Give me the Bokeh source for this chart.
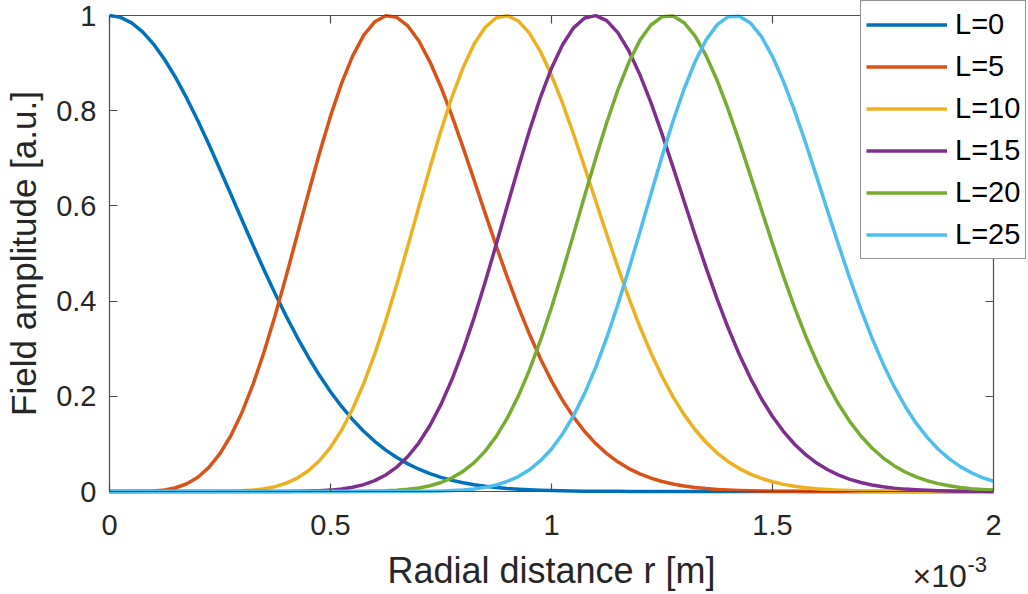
import math
from bokeh.plotting import figure
from bokeh.models import Range1d, Legend, LegendItem, LinearAxis, FixedTicker, Label
from bokeh.embed import file_html
from bokeh.resources import INLINE

# ---------------- data ----------------
# radial distance in units of 1e-3 m
r_mm = [0.0, 0.025, 0.05, 0.075, 0.1, 0.125, 0.15, 0.175, 0.2, 0.225,
        0.25, 0.275, 0.3, 0.325, 0.35, 0.375, 0.4, 0.425, 0.45, 0.475,
        0.5, 0.525, 0.55, 0.575, 0.6, 0.625, 0.65, 0.675, 0.7, 0.725,
        0.75, 0.775, 0.8, 0.825, 0.85, 0.875, 0.9, 0.925, 0.95, 0.975,
        1.0, 1.025, 1.05, 1.075, 1.1, 1.125, 1.15, 1.175, 1.2, 1.225,
        1.25, 1.275, 1.3, 1.325, 1.35, 1.375, 1.4, 1.425, 1.45, 1.475,
        1.5, 1.525, 1.55, 1.575, 1.6, 1.625, 1.65, 1.675, 1.7, 1.725,
        1.75, 1.775, 1.8, 1.825, 1.85, 1.875, 1.9, 1.925, 1.95, 1.975,
        2.0]

amp_L0 = [1.0, 0.9961, 0.9845, 0.9655, 0.9394, 0.9070, 0.8688, 0.8258, 0.7788, 0.7288,
          0.6766, 0.6233, 0.5698, 0.5168, 0.4650, 0.4152, 0.3679, 0.3234, 0.2821, 0.2441,
          0.2096, 0.1786, 0.1510, 0.1266, 0.1054, 0.0870, 0.0713, 0.0580, 0.0468, 0.0374,
          0.0297, 0.0234, 0.0183, 0.0142, 0.0109, 0.0084, 0.0063, 0.0048, 0.0036, 0.0026,
          0.0019, 0.0014, 0.0010, 0.0007, 0.0005, 0.0004, 0.0003, 0.0002, 0.0001, 0.0001,
          0.0001, 0.0, 0.0, 0.0, 0.0, 0.0, 0.0, 0.0, 0.0, 0.0,
          0.0, 0.0, 0.0, 0.0, 0.0, 0.0, 0.0, 0.0, 0.0, 0.0,
          0.0, 0.0, 0.0, 0.0, 0.0, 0.0, 0.0, 0.0, 0.0, 0.0,
          0.0]

amp_L5 = [0.0, 0.0, 0.0, 0.0003, 0.0011, 0.0033, 0.0079, 0.0163, 0.0300, 0.0506,
          0.0796, 0.1180, 0.1667, 0.2256, 0.2941, 0.3707, 0.4535, 0.5398, 0.6266, 0.7106,
          0.7886, 0.8575, 0.9148, 0.9583, 0.9867, 0.9993, 0.9962, 0.9781, 0.9464, 0.9027,
          0.8493, 0.7885, 0.7225, 0.6538, 0.5842, 0.5158, 0.4500, 0.3880, 0.3308, 0.2788,
          0.2324, 0.1916, 0.1563, 0.1261, 0.1007, 0.0796, 0.0623, 0.0482, 0.0370, 0.0281,
          0.0211, 0.0157, 0.0116, 0.0084, 0.0061, 0.0044, 0.0031, 0.0022, 0.0015, 0.0010,
          0.0007, 0.0005, 0.0003, 0.0002, 0.0001, 0.0001, 0.0001, 0.0, 0.0, 0.0,
          0.0, 0.0, 0.0, 0.0, 0.0, 0.0, 0.0, 0.0, 0.0, 0.0,
          0.0]

amp_L10 = [0.0, 0.0, 0.0, 0.0, 0.0, 0.0, 0.0, 0.0, 0.0, 0.0001,
           0.0003, 0.0007, 0.0015, 0.0031, 0.0058, 0.0103, 0.0175, 0.0282, 0.0435, 0.0646,
           0.0927, 0.1287, 0.1732, 0.2266, 0.2887, 0.3585, 0.4349, 0.5156, 0.5984, 0.6803,
           0.7583, 0.8293, 0.8907, 0.9400, 0.9752, 0.9953, 0.9996, 0.9885, 0.9629, 0.9242,
           0.8743, 0.8157, 0.7505, 0.6813, 0.6104, 0.5398, 0.4713, 0.4064, 0.3461, 0.2912,
           0.2421, 0.1989, 0.1615, 0.1297, 0.1029, 0.0808, 0.0627, 0.0481, 0.0365, 0.0275,
           0.0204, 0.0150, 0.0109, 0.0079, 0.0056, 0.0040, 0.0028, 0.0019, 0.0013, 0.0009,
           0.0006, 0.0004, 0.0003, 0.0002, 0.0001, 0.0001, 0.0, 0.0, 0.0, 0.0,
           0.0]

amp_L15 = [0.0, 0.0, 0.0, 0.0, 0.0, 0.0, 0.0, 0.0, 0.0, 0.0,
           0.0, 0.0, 0.0, 0.0, 0.0, 0.0001, 0.0002, 0.0004, 0.0008, 0.0016,
           0.0029, 0.0052, 0.0089, 0.0145, 0.0228, 0.0348, 0.0513, 0.0735, 0.1023, 0.1386,
           0.1830, 0.2358, 0.2968, 0.3653, 0.4401, 0.5192, 0.6003, 0.6808, 0.7577, 0.8281,
           0.8892, 0.9385, 0.9741, 0.9947, 0.9997, 0.9892, 0.9640, 0.9256, 0.8758, 0.8169,
           0.7513, 0.6815, 0.6099, 0.5385, 0.4693, 0.4037, 0.3429, 0.2876, 0.2382, 0.1949,
           0.1576, 0.1259, 0.0993, 0.0775, 0.0598, 0.0456, 0.0343, 0.0256, 0.0189, 0.0138,
           0.0099, 0.0071, 0.0050, 0.0035, 0.0024, 0.0016, 0.0011, 0.0007, 0.0005, 0.0003,
           0.0002]

amp_L20 = [0.0, 0.0, 0.0, 0.0, 0.0, 0.0, 0.0, 0.0, 0.0, 0.0,
           0.0, 0.0, 0.0, 0.0, 0.0, 0.0, 0.0, 0.0, 0.0, 0.0,
           0.0, 0.0001, 0.0002, 0.0004, 0.0008, 0.0014, 0.0026, 0.0045, 0.0075, 0.0121,
           0.0189, 0.0287, 0.0423, 0.0607, 0.0849, 0.1158, 0.1542, 0.2005, 0.2550, 0.3173,
           0.3867, 0.4618, 0.5407, 0.6211, 0.7003, 0.7753, 0.8433, 0.9016, 0.9478, 0.9801,
           0.9972, 0.9987, 0.9849, 0.9565, 0.9152, 0.8630, 0.8021, 0.7349, 0.6641, 0.5918,
           0.5204, 0.4515, 0.3865, 0.3267, 0.2725, 0.2245, 0.1827, 0.1468, 0.1165, 0.0913,
           0.0708, 0.0542, 0.0410, 0.0307, 0.0227, 0.0166, 0.0120, 0.0086, 0.0060, 0.0042,
           0.0029]

amp_L25 = [0.0, 0.0, 0.0, 0.0, 0.0, 0.0, 0.0, 0.0, 0.0, 0.0,
           0.0, 0.0, 0.0, 0.0, 0.0, 0.0, 0.0, 0.0, 0.0, 0.0,
           0.0, 0.0, 0.0, 0.0, 0.0, 0.0, 0.0001, 0.0001, 0.0003, 0.0006,
           0.0010, 0.0019, 0.0032, 0.0054, 0.0087, 0.0137, 0.0211, 0.0314, 0.0456, 0.0647,
           0.0894, 0.1208, 0.1596, 0.2062, 0.2608, 0.3231, 0.3922, 0.4670, 0.5454, 0.6252,
           0.7037, 0.7782, 0.8456, 0.9033, 0.9490, 0.9808, 0.9975, 0.9986, 0.9843, 0.9555,
           0.9138, 0.8610, 0.7997, 0.7321, 0.6609, 0.5883, 0.5166, 0.4475, 0.3825, 0.3226,
           0.2686, 0.2208, 0.1791, 0.1435, 0.1136, 0.0888, 0.0685, 0.0523, 0.0394, 0.0293,
           0.0216]

series_labels = ["L=0", "L=5", "L=10", "L=15", "L=20", "L=25"]
series_values = [amp_L0, amp_L5, amp_L10, amp_L15, amp_L20, amp_L25]

x_ticks = [0, 0.5, 1, 1.5, 2]
x_tick_labels = ["0", "0.5", "1", "1.5", "2"]
y_ticks = [0, 0.2, 0.4, 0.6, 0.8, 1]
y_tick_labels = ["0", "0.2", "0.4", "0.6", "0.8", "1"]

x_label = "Radial distance r [m]"
y_label = "Field amplitude [a.u.]"
x_multiplier = "\u00d710"
x_exponent = "-3"

# ---------------- layout / styling ----------------
W, H = 1028, 594
BOX_L, BOX_R, BOX_T, BOX_B = 109, 993, 15, 491   # pixel box of the axes
X0, X1 = 0.0, 2.0
Y0, Y1 = 0.0, 1.0
sx = (BOX_R - BOX_L) / (X1 - X0)
sy = (BOX_B - BOX_T) / (Y1 - Y0)
x_range = Range1d(X0 - BOX_L / sx, X1 + (W - BOX_R) / sx)
y_range = Range1d(Y0 - (H - BOX_B) / sy, Y1 + BOX_T / sy)

colors = ["#0072BD", "#D95319", "#EDB120", "#7E2F8E", "#77AC30", "#4DBEEE"]
FONT = "Liberation Sans"
AX_COLOR = "#4d4d4d"
TXT_COLOR = "#262626"

p = figure(width=W, height=H, output_backend="svg", toolbar_location=None,
           x_range=x_range, y_range=y_range,
           x_axis_location=None, y_axis_location=None,
           min_border=0, min_border_left=0, min_border_right=0,
           min_border_top=0, min_border_bottom=0)
p.xgrid.visible = False
p.ygrid.visible = False
p.outline_line_color = None
p.background_fill_color = "white"
p.border_fill_color = "white"


def make_axis(ticks, labels, loc, bounds, show_labels, standoff):
    ax = LinearAxis(ticker=FixedTicker(ticks=ticks), fixed_location=loc, bounds=bounds,
                    major_label_overrides=dict(zip(ticks, labels)))
    ax.major_tick_in = 8
    ax.major_tick_out = 0
    ax.minor_tick_in = 0
    ax.minor_tick_out = 0
    ax.axis_line_color = AX_COLOR
    ax.axis_line_width = 1.2
    ax.major_tick_line_color = AX_COLOR
    ax.major_tick_line_width = 1.2
    ax.major_label_text_font = FONT
    ax.major_label_text_font_size = "29px"
    ax.major_label_standoff = standoff
    if show_labels:
        ax.major_label_text_color = TXT_COLOR
    else:
        ax.major_label_text_color = None
    return ax


p.add_layout(make_axis(x_ticks, x_tick_labels, Y0, (X0, X1), True, 23), "below")
p.add_layout(make_axis(y_ticks, y_tick_labels, X0, (Y0, Y1), True, 13), "left")
p.add_layout(make_axis(x_ticks, x_tick_labels, Y1, (X0, X1), False, 0), "above")
p.add_layout(make_axis(y_ticks, y_tick_labels, X1, (Y0, Y1), False, 0), "right")

renderers = []
for vals, col in zip(series_values, colors):
    rend = p.line(r_mm, vals, line_color=col, line_width=3.5, line_join="round")
    renderers.append(rend)

legend = Legend(items=[LegendItem(label=lab, renderers=[rd])
                       for lab, rd in zip(series_labels, renderers)],
                location=(860, H - 259), orientation="vertical",
                label_text_font=FONT, label_text_font_size="29px",
                label_text_color="#000000",
                glyph_width=81, glyph_height=37, label_height=37,
                label_standoff=8, spacing=5, padding=5, margin=0,
                border_line_color=TXT_COLOR, border_line_width=1,
                background_fill_color="white", background_fill_alpha=1.0)
p.add_layout(legend)

# axis titles and exponent (screen units, measured from the bottom-left corner;
# anchors are the vertical middle of each text)
p.add_layout(Label(x=(BOX_L + BOX_R) / 2, y=H - 570, x_units="screen", y_units="screen",
                   text=x_label, text_align="center", text_baseline="middle",
                   text_font=FONT, text_font_size="36px", text_color=TXT_COLOR))
p.add_layout(Label(x=23, y=H - (BOX_T + BOX_B) / 2, x_units="screen", y_units="screen",
                   text=y_label, angle=math.pi / 2, text_align="center",
                   text_baseline="middle",
                   text_font=FONT, text_font_size="35px", text_color=TXT_COLOR))
p.add_layout(Label(x=912, y=H - 575, x_units="screen", y_units="screen",
                   text=x_multiplier, text_align="left", text_baseline="middle",
                   text_font=FONT, text_font_size="32px", text_color=TXT_COLOR))
p.add_layout(Label(x=967, y=H - 564, x_units="screen", y_units="screen",
                   text=x_exponent, text_align="left", text_baseline="middle",
                   text_font=FONT, text_font_size="22px", text_color=TXT_COLOR))

open("out.html", "w").write(file_html(p, INLINE))
